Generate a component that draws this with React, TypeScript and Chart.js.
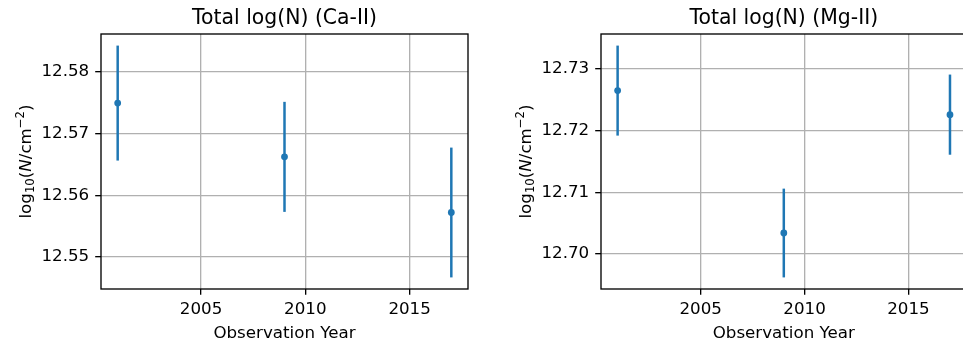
import React, { useEffect, useRef } from "react";
import { Chart, registerables } from "chart.js";

Chart.register(...registerables);

// Observation epochs and tick positions shared by both panels
const years = [2001, 2009, 2017];
const yearTicks = [2005, 2010, 2015];

// Ca-II total column densities and 1-sigma errors
const caValues = [12.5749, 12.5662, 12.5572];
const caErrors = [0.0093, 0.0089, 0.0105];
const caTicks = [12.55, 12.56, 12.57, 12.58];

// Mg-II total column densities and 1-sigma errors
const mgValues = [12.7265, 12.7034, 12.7226];
const mgErrors = [0.0073, 0.0072, 0.0065];
const mgTicks = [12.7, 12.71, 12.72, 12.73];

const caTitle = "Total log(N) (Ca-II)";
const mgTitle = "Total log(N) (Mg-II)";
const xLabel = "Observation Year";

const BLUE = "#1f77b4";
const FONT = "'DejaVu Sans', sans-serif";
const TICK_PX = 16.7;
const TITLE_PX = 20.4;
const LW = 1.33;

// 5% autoscale margin around the data extent, like matplotlib
function padRange(lo: number, hi: number) {
  const m = (hi - lo) * 0.05;
  return [lo - m, hi + m];
}

type PanelProps = {
  title: string;
  values: number[];
  errors: number[];
  yTicks: number[];
  left: number;
  width: number;
  plotLeft: number;
  padRight: number;
};

function Panel({ title, values, errors, yTicks, left, width, plotLeft, padRight }: PanelProps) {
  const ref = useRef<HTMLCanvasElement | null>(null);

  useEffect(() => {
    const canvas = ref.current;
    if (!canvas) return;

    const [xMin, xMax] = padRange(Math.min(...years), Math.max(...years));
    const lows = values.map((v, i) => v - errors[i]);
    const highs = values.map((v, i) => v + errors[i]);
    const [yMin, yMax] = padRange(Math.min(...lows), Math.max(...highs));

    const errorBars = {
      id: "errorBars",
      beforeDatasetsDraw(chart: any) {
        const { ctx } = chart;
        const xs = chart.scales.x;
        const ys = chart.scales.y;
        ctx.save();
        ctx.strokeStyle = BLUE;
        ctx.lineWidth = 2.5;
        ctx.lineCap = "butt";
        years.forEach((yr, i) => {
          const px = xs.getPixelForValue(yr);
          ctx.beginPath();
          ctx.moveTo(px, ys.getPixelForValue(highs[i]));
          ctx.lineTo(px, ys.getPixelForValue(lows[i]));
          ctx.stroke();
        });
        ctx.restore();
      },
    };

    const frame = {
      id: "frame",
      afterDatasetsDraw(chart: any) {
        const { ctx, chartArea: a } = chart;
        ctx.save();
        ctx.strokeStyle = "#000";
        ctx.lineWidth = LW;
        ctx.strokeRect(a.left, a.top, a.right - a.left, a.bottom - a.top);

        const cx = (a.left + a.right) / 2;
        ctx.fillStyle = "#000";
        ctx.textAlign = "center";
        ctx.textBaseline = "alphabetic";
        ctx.font = `${TITLE_PX}px ${FONT}`;
        ctx.fillText(title, cx, 24);
        ctx.font = `${TICK_PX}px ${FONT}`;
        ctx.fillText(xLabel, cx, 338);

        // y-axis label: log10(N/cm^-2) with sub/superscripts
        const small = TICK_PX * 0.7;
        const runs = [
          { t: "log", f: `${TICK_PX}px ${FONT}`, dy: 0 },
          { t: "10", f: `${small}px ${FONT}`, dy: 3.2 },
          { t: "(", f: `${TICK_PX}px ${FONT}`, dy: 0 },
          { t: "N", f: `italic ${TICK_PX}px ${FONT}`, dy: 0 },
          { t: "/cm", f: `${TICK_PX}px ${FONT}`, dy: 0 },
          { t: "\u22122", f: `${small}px ${FONT}`, dy: -7.2 },
          { t: ")", f: `${TICK_PX}px ${FONT}`, dy: 0 },
        ];
        let total = 0;
        const widths = runs.map((r) => {
          ctx.font = r.f;
          const w = ctx.measureText(r.t).width;
          total += w;
          return w;
        });
        ctx.translate(a.left - 70, (a.top + a.bottom) / 2);
        ctx.rotate(-Math.PI / 2);
        ctx.textAlign = "left";
        let x = -total / 2;
        runs.forEach((r, i) => {
          ctx.font = r.f;
          ctx.fillText(r.t, x, r.dy);
          x += widths[i];
        });
        ctx.restore();
      },
    };

    const chart = new Chart(canvas, {
      type: "scatter",
      data: {
        datasets: [
          {
            data: years.map((yr, i) => ({ x: yr, y: values[i] })),
            backgroundColor: BLUE,
            borderColor: BLUE,
            borderWidth: 0,
            pointRadius: 3.4,
            pointHoverRadius: 3.4,
          },
        ],
      },
      options: {
        animation: false,
        responsive: false,
        devicePixelRatio: 1,
        events: [],
        layout: { padding: { left: 0, right: padRight, top: 34, bottom: 0 } },
        plugins: { legend: { display: false }, tooltip: { enabled: false }, title: { display: false } },
        scales: {
          x: {
            type: "linear",
            min: xMin,
            max: xMax,
            afterBuildTicks: (s: any) => {
              s.ticks = yearTicks.map((v) => ({ value: v }));
            },
            afterFit: (s: any) => {
              s.height = 58;
            },
            border: { display: false },
            grid: { color: "#b0b0b0", lineWidth: LW, tickColor: "#000", tickLength: 5.8, tickWidth: LW },
            ticks: {
              autoSkip: false,
              maxRotation: 0,
              padding: 4.5,
              color: "#000",
              font: { family: FONT, size: TICK_PX },
              callback: (v: any) => String(v),
            },
          },
          y: {
            type: "linear",
            min: yMin,
            max: yMax,
            afterBuildTicks: (s: any) => {
              s.ticks = yTicks.map((v) => ({ value: v }));
            },
            afterFit: (s: any) => {
              s.width = plotLeft;
            },
            border: { display: false },
            grid: { color: "#b0b0b0", lineWidth: LW, tickColor: "#000", tickLength: 5.8, tickWidth: LW },
            ticks: {
              padding: 6,
              color: "#000",
              font: { family: FONT, size: TICK_PX },
              callback: (v: any) => Number(v).toFixed(2),
            },
          },
        },
      },
      plugins: [errorBars, frame],
    });

    return () => chart.destroy();
  }, [title, values, errors, yTicks, plotLeft, padRight]);

  return (
    <canvas
      ref={ref}
      width={width}
      height={347}
      style={{ position: "absolute", left, top: 0, width, height: 347 }}
    />
  );
}

export default function App() {
  return (
    <div
      style={{
        position: "absolute",
        left: 0,
        top: 0,
        width: 963,
        height: 347,
        overflow: "hidden",
        background: "#fff",
      }}
    >
      <Panel title={caTitle} values={caValues} errors={caErrors} yTicks={caTicks} left={0} width={480} plotLeft={101} padRight={12} />
      <Panel title={mgTitle} values={mgValues} errors={mgErrors} yTicks={mgTicks} left={480} width={490} plotLeft={121} padRight={1.5} />
    </div>
  );
}
